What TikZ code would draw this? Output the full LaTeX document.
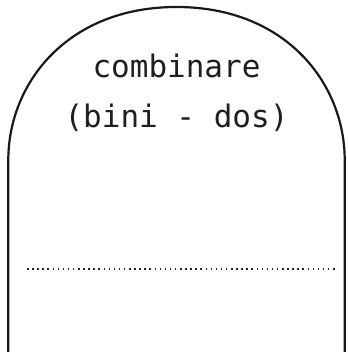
\documentclass[tikz,border=0pt]{standalone}
\usepackage{fontspec}
\setmonofont{DejaVu Sans Mono}
\usepackage{tikz}
\usetikzlibrary{positioning}

\begin{document}
\begin{tikzpicture}[x=1pt, y=1pt,
        stoneline/.style={draw=black!90, line width=2.2pt},
        dotline/.style={draw=black!85, line width=1.5pt, dash pattern=on 1.5pt off 3.6pt},
        titletext/.style={font=\ttfamily\fontsize{31}{50}\selectfont, text=black!88, inner sep=0pt, anchor=base},
      ]
      \useasboundingbox (0,0) rectangle (347,352);

      % Nodes
      \coordinate (lowleft) at (8.3,-3);
      \coordinate (upleft) at (8.3,192);
      \coordinate (top) at (176.5,345);
      \coordinate (upright) at (344.7,192);
      \coordinate (lowright) at (344.7,-3);
      \node[titletext] (title) at (176.5,274) {combinare};
      \node[titletext] (subtitle) at (176.5,224) {(bini - dos)};
      \coordinate (dotstart) at (27,83);
      \coordinate (dotend) at (336,83);

      % Lines
      \draw[stoneline] (lowleft) -- (upleft)
        .. controls (8.3,268.5) and (67.2,345) .. (top)
        .. controls (285.8,345) and (344.7,268.5) .. (upright) -- (lowright);
      \draw[dotline] (dotstart) -- (dotend);
    \end{tikzpicture}
\end{document}
